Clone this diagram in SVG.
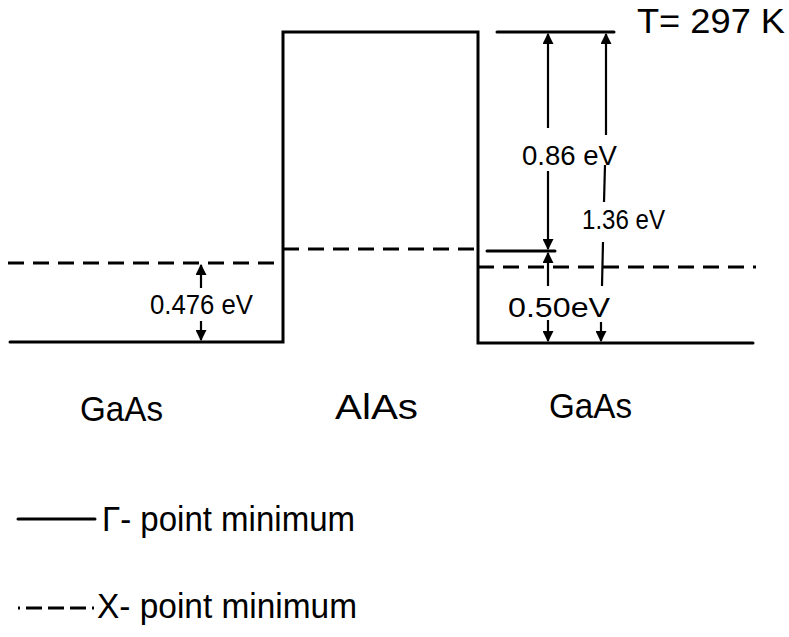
<svg xmlns="http://www.w3.org/2000/svg" width="789" height="637" viewBox="0 0 789 637">
<defs>
<style>
.s{stroke:#000;stroke-width:3;fill:none;stroke-linecap:round}
.d{stroke:#000;stroke-width:3;fill:none;stroke-dasharray:16 9}
.a{stroke:#000;stroke-width:2.2;fill:none}
text{font-family:"Liberation Sans","DejaVu Sans",sans-serif;fill:#000}
.lab{font-size:35px}
.ev{font-size:28px}
</style>
<marker id="ah" viewBox="0 0 10 10" refX="9" refY="5" markerWidth="5" markerHeight="5" orient="auto-start-reverse">
<path d="M0,0 L10,5 L0,10 z" fill="#000"/>
</marker>
</defs>
<rect width="789" height="637" fill="#fff"/>
<g id="bands">
<path class="s" d="M10,342 H283 V32 H478 V343 H753"/>
<line class="s" x1="497" y1="32" x2="614" y2="32"/>
<line class="d" x1="8" y1="263" x2="283" y2="263"/>
<line class="d" x1="283" y1="249" x2="478" y2="249"/>
<line class="d" x1="478" y1="267" x2="756" y2="267"/>
<line class="s" x1="487" y1="251" x2="555" y2="251"/>
</g>
<g id="connectors">
<line class="a" x1="548" y1="128" x2="548" y2="34" marker-end="url(#ah)"/>
<line class="a" x1="548" y1="171" x2="548" y2="249" marker-end="url(#ah)"/>
<line class="a" x1="548" y1="286" x2="548" y2="253" marker-end="url(#ah)"/>
<line class="a" x1="548" y1="320" x2="548" y2="341" marker-end="url(#ah)"/>
<line class="a" x1="606" y1="135" x2="606" y2="34" marker-end="url(#ah)"/>
<line class="a" x1="605" y1="165" x2="604" y2="202"/>
<line class="a" x1="603" y1="242" x2="602" y2="286"/>
<line class="a" x1="601" y1="322" x2="601" y2="341" marker-end="url(#ah)"/>
<line class="a" x1="201" y1="288" x2="201" y2="265" marker-end="url(#ah)"/>
<line class="a" x1="201" y1="321" x2="201" y2="340" marker-end="url(#ah)"/>
</g>
<g id="labels">
<text x="637" y="33" class="lab" textLength="148" lengthAdjust="spacingAndGlyphs">T= 297 K</text>
<text x="522" y="165" class="ev" textLength="95" lengthAdjust="spacingAndGlyphs">0.86 eV</text>
<text x="582" y="229" class="ev" textLength="83" lengthAdjust="spacingAndGlyphs">1.36 eV</text>
<text x="150" y="314" class="ev" textLength="103" lengthAdjust="spacingAndGlyphs">0.476 eV</text>
<text x="508" y="317" class="ev" textLength="102" lengthAdjust="spacingAndGlyphs">0.50eV</text>
<text x="80" y="421" class="lab" textLength="83" lengthAdjust="spacingAndGlyphs">GaAs</text>
<text x="335" y="419" class="lab" textLength="83" lengthAdjust="spacingAndGlyphs">AlAs</text>
<text x="549" y="418" class="lab" textLength="83" lengthAdjust="spacingAndGlyphs">GaAs</text>
</g>
<g id="legend">
<line class="s" x1="18" y1="519" x2="95" y2="519"/>
<text x="102" y="531" class="lab" textLength="253" lengthAdjust="spacingAndGlyphs">Γ- point  minimum</text>
<line x1="18" y1="608" x2="95" y2="608" style="stroke:#000;stroke-width:3;stroke-dasharray:2 6 16 6 16 6 16 6"/>
<text x="97" y="618" class="lab" textLength="260" lengthAdjust="spacingAndGlyphs">X- point  minimum</text>
</g>
</svg>
